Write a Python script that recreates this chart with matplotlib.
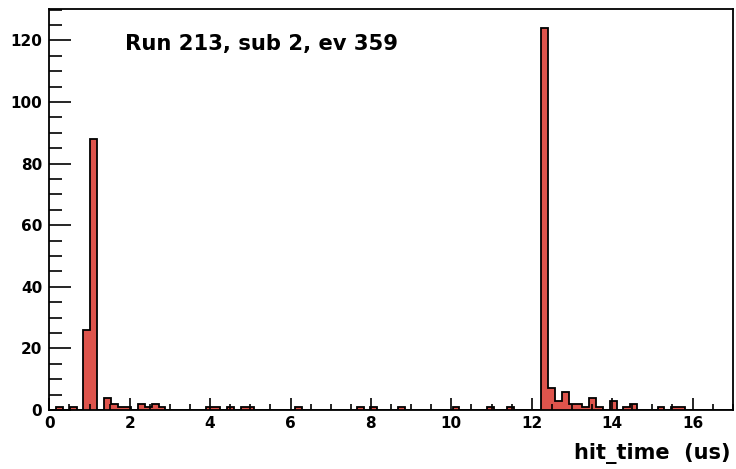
import matplotlib
matplotlib.use("Agg")
import matplotlib.pyplot as plt
import numpy as np
from matplotlib.ticker import MultipleLocator

# Histogram: 100 bins from 0 to 17 us
x_min, x_max, n_bins = 0.0, 17.0, 100
counts = [
    0, 1, 0, 1, 0, 26, 88, 0, 4, 2,        # 0-9
    1, 1, 0, 2, 1, 2, 1, 0, 0, 0,          # 10-19
    0, 0, 0, 1, 1, 0, 1, 0, 1, 1,          # 20-29
    0, 0, 0, 0, 0, 0, 1, 0, 0, 0,          # 30-39
    0, 0, 0, 0, 0, 1, 0, 1, 0, 0,          # 40-49
    0, 1, 0, 0, 0, 0, 0, 0, 0, 1,          # 50-59
    0, 0, 0, 0, 1, 0, 0, 1, 0, 0,          # 60-69
    0, 0, 124, 7, 3, 6, 2, 2, 1, 4,        # 70-79
    1, 0, 3, 0, 1, 2, 0, 0, 0, 1,          # 80-89
    0, 1, 1, 0, 0, 0, 0, 0, 0, 0,          # 90-99
]
title_text = "Run 213, sub 2, ev 359"
x_label = "hit_time  (us)"

plt.rcParams['font.family'] = ['DejaVu Sans']

edges = np.linspace(x_min, x_max, n_bins + 1)
vals = np.array(counts, dtype=float)

fig = plt.figure(figsize=(7.36, 4.69), dpi=100)
ax = fig.add_axes([49.3 / 736, 1 - 410 / 469, (732.7 - 49.3) / 736, (410 - 9) / 469])

ax.stairs(vals, edges, fill=True, color='#DE544C', baseline=0)
ax.stairs(vals, edges, fill=False, color='black', linewidth=1.3, baseline=0)

ax.set_xlim(x_min, x_max)
ax.set_ylim(0, vals.max() * 1.05)

ax.xaxis.set_major_locator(MultipleLocator(2))
ax.xaxis.set_minor_locator(MultipleLocator(0.5))
ax.yaxis.set_major_locator(MultipleLocator(20))
ax.yaxis.set_minor_locator(MultipleLocator(5))

ax.tick_params(axis='both', which='both', direction='in', top=False, right=False,
               width=1.2, color='black')
ax.tick_params(axis='y', which='major', length=16, pad=5)
ax.tick_params(axis='y', which='minor', length=9)
ax.tick_params(axis='x', which='major', length=8.3, pad=4.5)
ax.tick_params(axis='x', which='minor', length=4.4)

for lab in ax.get_xticklabels() + ax.get_yticklabels():
    lab.set_fontweight('bold')
    lab.set_fontsize(11)

for s in ax.spines.values():
    s.set_linewidth(1.3)
    s.set_color('black')

ax.text(0.111, 0.913, title_text, transform=ax.transAxes, ha='left', va='center',
        fontsize=15.2, fontweight='bold')

fig.text(730 / 736, 1 - 453 / 469, x_label, ha='right', va='center',
         fontsize=15, fontweight='bold')

fig.savefig('out.png', dpi=100)
